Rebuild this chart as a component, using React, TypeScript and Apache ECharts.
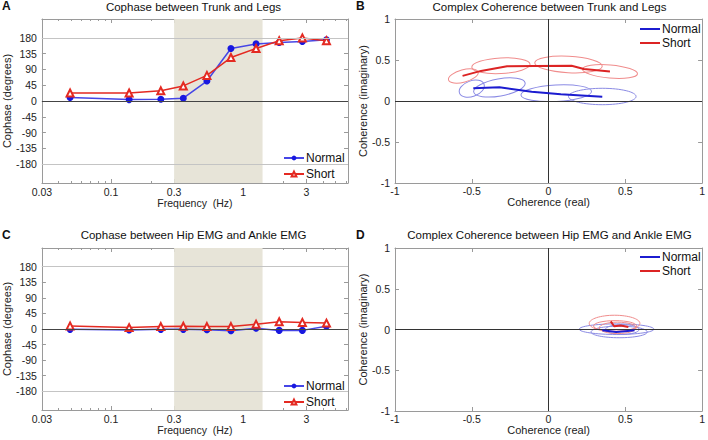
import { useEffect, useRef } from 'react';
import * as echarts from 'echarts';

// ---- Data ----
const frequencies = [0.049, 0.137, 0.238, 0.352, 0.531, 0.807, 1.25, 1.87, 2.8, 4.26];
const trunkLegsNormal = [10, 4, 5, 8, 57, 150, 163, 167, 170, 175];
const trunkLegsShort = [23, 23, 29, 43, 73, 124, 150, 172, 180, 172];
const hipAnkleNormal = [-1, -3, -1, -1, -2, -5, 2, -4, -4, 8];
const hipAnkleShort = [9, 4, 7, 8, 7, 7, 14, 21, 19, 17];

const freqTickValues = [0.03, 0.1, 0.3, 1, 3];
const freqTickLabels = ['0.03', '0.1', '0.3', '1', '3'];
const freqMinorTicks = [0.04, 0.05, 0.06, 0.07, 0.08, 0.09, 0.2, 0.4, 0.5, 0.6, 0.7, 0.8, 0.9, 2, 4, 5, 6];
const freqRange = [0.03, 6.2];
const bandRange = [0.3, 1.4];
const cophaseTicks = [-180, -135, -90, -45, 0, 45, 90, 135, 180];
const cophaseRange = [-234, 234];
const cophaseGrid = [-180, 180];

// complex coherence paths [real, imaginary]
const trunkLegsNormalPath = [[-0.49, 0.155], [-0.32, 0.167], [-0.11, 0.114], [0.08, 0.082], [0.35, 0.053]];
const trunkLegsShortPath = [[-0.56, 0.306], [-0.44, 0.367], [-0.27, 0.424], [-0.09, 0.428], [0.15, 0.43], [0.23, 0.39], [0.40, 0.36]];
const hipAnkleNormalPath = [[0.35, -0.01], [0.44, -0.03], [0.50, -0.02], [0.56, -0.01]];
const hipAnkleShortPath = [[0.405, 0.10], [0.427, 0.04], [0.47, 0.05], [0.52, 0.03]];
// confidence ellipses [cx, cy, rx, ry, tilt deg]
const trunkLegsNormalEllipses = [[-0.50, 0.15, 0.085, 0.095, 20], [-0.32, 0.165, 0.17, 0.105, 10], [0.05, 0.095, 0.23, 0.10, 3], [0.35, 0.055, 0.22, 0.10, 0]];
const trunkLegsShortEllipses = [[-0.555, 0.305, 0.10, 0.075, 15], [-0.31, 0.43, 0.19, 0.095, 3], [0.13, 0.445, 0.22, 0.10, -3], [0.40, 0.36, 0.18, 0.08, -5]];
const hipAnkleNormalEllipses = [[0.443, 0.004, 0.243, 0.065, 0], [0.46, -0.03, 0.183, 0.071, 0], [0.48, 0.0, 0.11, 0.06, 0]];
const hipAnkleShortEllipses = [[0.43, 0.075, 0.165, 0.10, 0], [0.433, 0.044, 0.14, 0.065, 0], [0.45, 0.02, 0.12, 0.07, 0]];
const coherenceTicks = [-1, 1];

const FONT = 'Liberation Sans, Arial, Helvetica, sans-serif';
const AXIS = '#9a9a9a';
const TXT = '#222';
const BLUE = '#1818e0';
const BLUE_LINE = '#4646e6';
const RED = '#e42a22';
const BLUE_ELL = '#8a8ae4';
const RED_ELL = '#f08c8c';

const log = (v: number) => Math.log10(v);

function freqLabel(v: number) {
  for (let i = 0; i < freqTickValues.length; i++) {
    if (Math.abs(log(freqTickValues[i]) - v) < 1e-6) return freqTickLabels[i];
  }
  return '';
}

function logXAxis(grid: number, position: string, labels: boolean, minor: boolean) {
  return {
    type: 'value', gridIndex: grid, position,
    min: log(freqRange[0]), max: log(freqRange[1]),
    name: labels ? 'Frequency  (Hz)' : '', nameLocation: 'middle', nameGap: 14,
    nameTextStyle: { fontSize: 10.5, color: TXT, fontFamily: FONT },
    axisLine: { show: !minor, onZero: false, lineStyle: { color: AXIS, width: 1 } },
    axisTick: { show: true, inside: true, length: minor ? 2 : 4, customValues: (minor ? freqMinorTicks : freqTickValues).map(log), lineStyle: { color: AXIS } },
    axisLabel: labels ? { show: true, customValues: freqTickValues.map(log), formatter: freqLabel, margin: 3, color: TXT, fontSize: 10.5, fontFamily: FONT } : { show: false },
    splitLine: { show: false },
  };
}

function phaseYAxis(grid: number, position: string, labels: boolean) {
  return {
    type: 'value', gridIndex: grid, position,
    min: cophaseRange[0], max: cophaseRange[1],
    name: labels ? 'Cophase (degrees)' : '', nameLocation: 'middle', nameGap: 25,
    nameTextStyle: { fontSize: 11, color: TXT, fontFamily: FONT },
    axisLine: { show: true, onZero: false, lineStyle: { color: AXIS, width: 1 } },
    axisTick: { show: true, inside: true, length: 4, customValues: cophaseTicks, lineStyle: { color: AXIS } },
    axisLabel: labels ? { show: true, customValues: cophaseTicks, margin: 5, color: TXT, fontSize: 10.5, fontFamily: FONT } : { show: false },
    splitLine: { show: false },
  };
}

function cohAxis(dim: 'x' | 'y', grid: number, position: string, labels: boolean) {
  return {
    type: 'value', gridIndex: grid, position,
    min: coherenceTicks[0], max: coherenceTicks[1], interval: 0.5,
    name: labels ? (dim === 'x' ? 'Coherence (real)' : 'Coherence (imaginary)') : '',
    nameLocation: 'middle', nameGap: dim === 'x' ? 13 : 22,
    nameTextStyle: { fontSize: 11, color: TXT, fontFamily: FONT },
    axisLine: { show: true, onZero: false, lineStyle: { color: AXIS, width: 1 } },
    axisTick: { show: true, inside: true, length: 4, lineStyle: { color: AXIS } },
    axisLabel: labels ? { show: true, margin: dim === 'x' ? 2 : 5, color: TXT, fontSize: 10.5, fontFamily: FONT } : { show: false },
    splitLine: { show: false },
  };
}

function ellipseSeries(name: string, data: number[][], color: string, xi: number, yi: number) {
  return {
    type: 'custom', name, xAxisIndex: xi, yAxisIndex: yi, silent: true, z: 2,
    data,
    renderItem: (_p: any, api: any) => {
      const c = api.coord([api.value(0), api.value(1)]);
      const s = api.size([api.value(2), api.value(3)]);
      return {
        type: 'ellipse', x: c[0], y: c[1], rotation: (api.value(4) * Math.PI) / 180,
        shape: { cx: 0, cy: 0, rx: s[0], ry: s[1] },
        style: { fill: 'none', stroke: color, lineWidth: 1 },
      };
    },
  };
}

function phaseSeries(xi: number, yi: number, prefix: string, normal: number[], short: number[]) {
  return [
    {
      type: 'line', name: prefix + '|Normal', xAxisIndex: xi, yAxisIndex: yi, z: 3,
      data: frequencies.map((f, i) => [log(f), normal[i]]),
      symbol: 'circle', symbolSize: 7,
      itemStyle: { color: BLUE },
      lineStyle: { color: BLUE_LINE, width: 1.5 },
      markArea: {
        silent: true, itemStyle: { color: '#e7e4d8' },
        data: [[{ xAxis: log(bandRange[0]) }, { xAxis: log(bandRange[1]) }]],
      },
      markLine: {
        silent: true, symbol: 'none', label: { show: false },
        data: [
          { yAxis: cophaseGrid[0], lineStyle: { color: '#c4c4c4', width: 1, type: 'solid' } },
          { yAxis: cophaseGrid[1], lineStyle: { color: '#c4c4c4', width: 1, type: 'solid' } },
          { yAxis: 0, lineStyle: { color: '#444', width: 1, type: 'solid' } },
        ],
      },
    },
    {
      type: 'line', name: prefix + '|Short', xAxisIndex: xi, yAxisIndex: yi, z: 4,
      data: frequencies.map((f, i) => [log(f), short[i]]),
      symbol: 'emptyTriangle', symbolSize: 7,
      itemStyle: { color: RED, borderColor: RED, borderWidth: 1.2 },
      lineStyle: { color: RED, width: 1.5 },
    },
  ];
}

function cohSeries(xi: number, yi: number, prefix: string, nPath: number[][], sPath: number[][], nEll: number[][], sEll: number[][]) {
  return [
    ellipseSeries(prefix + '-ellN', nEll, BLUE_ELL, xi, yi),
    ellipseSeries(prefix + '-ellS', sEll, RED_ELL, xi, yi),
    {
      type: 'line', name: prefix + '|Short', xAxisIndex: xi, yAxisIndex: yi, z: 4,
      data: sPath, symbol: 'none', lineStyle: { color: '#dc2424', width: 2 }, itemStyle: { color: '#dc2424' },
      markLine: {
        silent: true, symbol: 'none', label: { show: false },
        lineStyle: { color: '#333', width: 1, type: 'solid' },
        data: [{ xAxis: 0 }, { yAxis: 0 }],
      },
    },
    {
      type: 'line', name: prefix + '|Normal', xAxisIndex: xi, yAxisIndex: yi, z: 5,
      data: nPath, symbol: 'none', lineStyle: { color: '#1c1cd0', width: 2 }, itemStyle: { color: '#1c1cd0' },
    },
  ];
}

function legend(prefix: string, left: number, top: number, withMarker: boolean) {
  const names = [prefix + '|Normal', prefix + '|Short'];
  return {
    data: withMarker ? names : names.map((name) => ({ name, icon: 'rect' })),
    formatter: (n: string) => n.split('|')[1],
    orient: 'vertical', left, top, padding: 0, itemGap: withMarker ? 2 : 0,
    itemWidth: 20, itemHeight: withMarker ? 6 : 2,
    selectedMode: false,
    textStyle: { fontSize: 12, color: '#111', fontFamily: FONT, padding: [0, 0, 0, -3], lineHeight: 14 },
  };
}

function text(t: string, x: number, y: number, bold = false, size = 11.5) {
  return {
    type: 'text', x, y,
    style: { text: t, fill: '#111', font: `${bold ? 'bold ' : ''}${size}px ${FONT}`, textAlign: bold ? 'left' : 'center', textVerticalAlign: 'middle' },
  };
}

export default function App() {
  const ref = useRef<HTMLDivElement>(null);
  useEffect(() => {
    if (!ref.current) return;
    const chart = echarts.init(ref.current, null, { renderer: 'svg' });
    const option: any = {
      animation: false,
      backgroundColor: '#fff',
      textStyle: { fontFamily: FONT },
      grid: [
        { left: 39, top: 19, width: 309, height: 164 },
        { left: 39, top: 248, width: 309, height: 162 },
        { left: 395, top: 19, width: 309, height: 164 },
        { left: 395, top: 248, width: 309, height: 163 },
      ],
      xAxis: [
        logXAxis(0, 'bottom', true, false),
        logXAxis(0, 'top', false, false),
        logXAxis(0, 'bottom', false, true),
        logXAxis(0, 'top', false, true),
        logXAxis(1, 'bottom', true, false),
        logXAxis(1, 'top', false, false),
        logXAxis(1, 'bottom', false, true),
        logXAxis(1, 'top', false, true),
        cohAxis('x', 2, 'bottom', true),
        cohAxis('x', 2, 'top', false),
        cohAxis('x', 3, 'bottom', true),
        cohAxis('x', 3, 'top', false),
      ],
      yAxis: [
        phaseYAxis(0, 'left', true),
        phaseYAxis(0, 'right', false),
        phaseYAxis(1, 'left', true),
        phaseYAxis(1, 'right', false),
        cohAxis('y', 2, 'left', true),
        cohAxis('y', 2, 'right', false),
        cohAxis('y', 3, 'left', true),
        cohAxis('y', 3, 'right', false),
      ],
      legend: [
        legend('A', 283, 151, true),
        legend('C', 283, 379, true),
        legend('B', 640, 22, false),
        legend('D', 640, 250, false),
      ],
      series: [
        ...phaseSeries(0, 0, 'A', trunkLegsNormal, trunkLegsShort),
        ...phaseSeries(4, 2, 'C', hipAnkleNormal, hipAnkleShort),
        ...cohSeries(8, 4, 'B', trunkLegsNormalPath, trunkLegsShortPath, trunkLegsNormalEllipses, trunkLegsShortEllipses),
        ...cohSeries(10, 6, 'D', hipAnkleNormalPath, hipAnkleShortPath, hipAnkleNormalEllipses, hipAnkleShortEllipses),
      ],
      graphic: [
        text('A', 2, 6, true, 12),
        text('B', 356, 6, true, 12),
        text('C', 2, 235, true, 12),
        text('D', 356, 235, true, 12),
        text('Cophase between Trunk and Legs', 193.5, 7),
        text('Complex Coherence between Trunk and Legs', 549.5, 7),
        text('Cophase between Hip EMG and Ankle EMG', 193.5, 235),
        text('Complex Coherence between Hip EMG and Ankle EMG', 549.5, 235),
      ],
    };
    chart.setOption(option);
    return () => chart.dispose();
  }, []);
  return <div ref={ref} style={{ position: 'fixed', left: 0, top: 0, width: 708, height: 440, background: '#fff' }} />;
}
